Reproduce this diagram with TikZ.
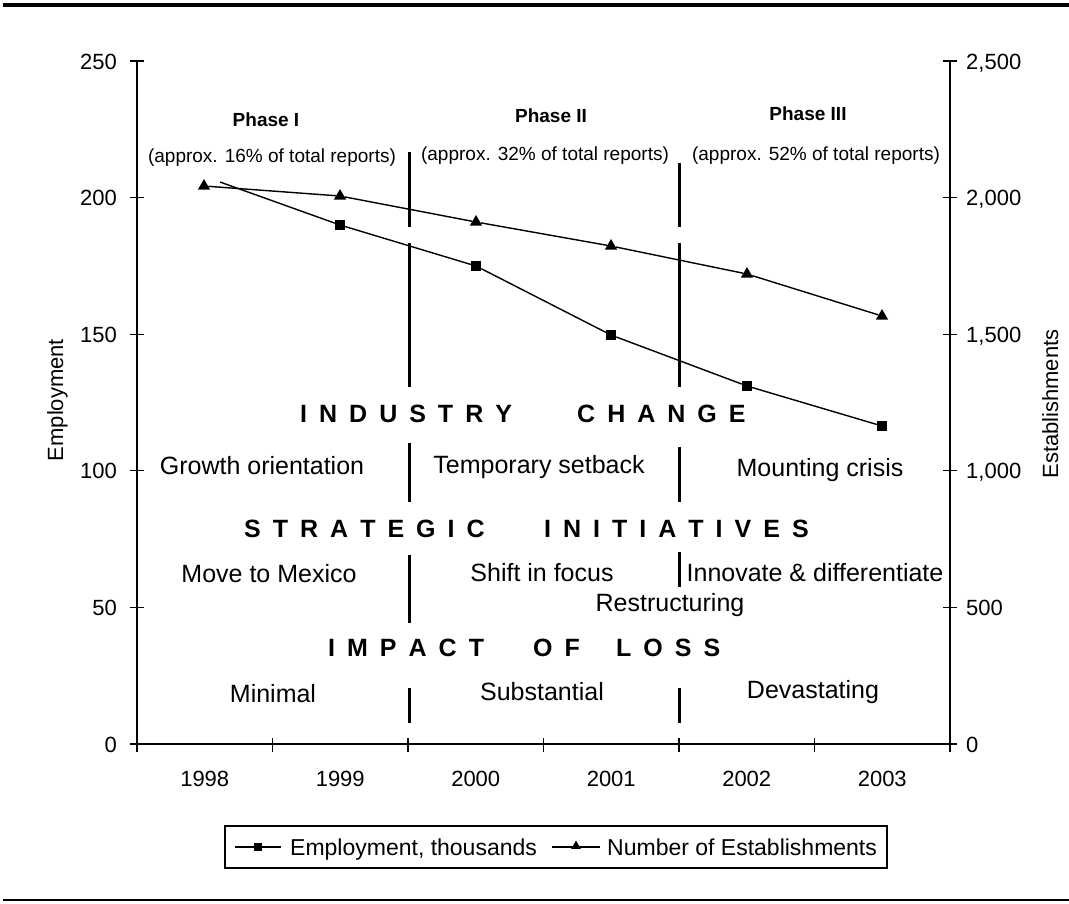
\documentclass[tikz,border=0pt]{standalone}
\usepackage{fontspec}
\setmainfont{Liberation Sans}
\usetikzlibrary{shapes.geometric}
\newcommand\lsp{\hspace{12pt}}
\begin{document}
\begin{tikzpicture}[x=1pt,y=-1pt,
  sq/.style={rectangle, fill=black, minimum size=10pt, inner sep=0},
  tri/.style={regular polygon, regular polygon sides=3, fill=black, minimum size=14pt, inner sep=0},
  lsq/.style={rectangle, fill=black, minimum size=8pt, inner sep=0},
  ltri/.style={regular polygon, regular polygon sides=3, fill=black, minimum size=11pt, inner sep=0},
  series/.style={line width=1.4pt},
  divider/.style={line width=3pt},
  axisline/.style={line width=1.5pt},
  tickline/.style={line width=1.3pt},
  lab/.style={font=\fontsize{25}{30}\selectfont, inner sep=0, text height=18pt, text depth=0pt},
  head/.style={font=\bfseries\fontsize{25}{30}\selectfont, inner sep=0, anchor=west, text height=18pt, text depth=0pt},
  phase/.style={font=\bfseries\fontsize{19}{23}\selectfont, inner sep=0, text height=14pt, text depth=0pt},
  sub/.style={font=\fontsize{19}{23}\selectfont, inner sep=0, text height=14pt, text depth=4pt},
  num/.style={font=\fontsize{22}{26}\selectfont, inner sep=0, text height=16pt, text depth=0pt},
  legtext/.style={font=\fontsize{23}{27}\selectfont, inner sep=0, anchor=west, text height=16.5pt, text depth=0pt}
]
\useasboundingbox (0,0) rectangle (1069,903);
\fill[white] (0,0) rectangle (1069,903);
% rules
\draw[line width=4pt] (3,5) -- (1069,5);
\draw[line width=2pt] (3,900) -- (1069,900);

% axes
\coordinate (o) at (137,744);
\coordinate (ltop) at (137,61);
\coordinate (rbot) at (950,744);
\coordinate (rtop) at (950,61);
\draw[axisline] (ltop) -- (o);
\draw[axisline] (rtop) -- (rbot);
\draw[line width=2.5pt] (o) -- (rbot);

% y ticks and labels
\foreach \k/\l/\r in {0/0/0, 1/50/500, 2/100/{1,000}, 3/150/{1,500}, 4/200/{2,000}, 5/250/{2,500}} {
  \draw[tickline] (130,744-136.6*\k) -- (144,744-136.6*\k);
  \draw[tickline] (943,744-136.6*\k) -- (957,744-136.6*\k);
  \node[num, anchor=east] (yl\k) at (117,744-136.6*\k) {\l};
  \node[num, anchor=west] (yr\k) at (966,744-136.6*\k) {\r};
}
% x ticks
\foreach \k in {0,...,6} {
  \draw[tickline] (137+135.5*\k,738) -- (137+135.5*\k,752);
}
\foreach \k/\yr in {0/1998,1/1999,2/2000,3/2001,4/2002,5/2003} {
  \node[num] (x\yr) at (204.75+135.5*\k,778) {\yr};
}

% axis titles
\node[num, rotate=90] (ytitle) at (55,400) {Employment};
\node[num, rotate=90] (y2title) at (1050,404) {Establishments};

% dividers
\foreach \x/\a/\b in {409/152/227, 409/243/387, 409/443/502, 409/555/623, 409/688/723,
                      679/163/227, 679/243/387, 679/447/502, 679/552/587, 679/688/723} {
  \draw[divider] (\x,\a) -- (\x,\b);
}

% establishments series
\node[tri] (t1998) at (204,186) {};
\node[tri] (t1999) at (340,196) {};
\node[tri] (t2000) at (476,222) {};
\node[tri] (t2001) at (611,246) {};
\node[tri] (t2002) at (747,274) {};
\node[tri] (t2003) at (882,316) {};
\draw[series] (t1998) -- (t1999) -- (t2000) -- (t2001) -- (t2002) -- (t2003);

% employment series
\coordinate (e1998) at (220,182);
\node[sq] (e1999) at (340,225) {};
\node[sq] (e2000) at (476,266) {};
\node[sq] (e2001) at (611,335) {};
\node[sq] (e2002) at (747,386) {};
\node[sq] (e2003) at (882,426) {};
\draw[series] (e1998) -- (e1999) -- (e2000) -- (e2001) -- (e2002) -- (e2003);

% phases
\node[phase] (p1) at (266,119) {Phase I};
\node[phase] (p2) at (551,115) {Phase II};
\node[phase] (p3) at (808,113) {Phase III};
\node[sub] (s1) at (272,157) {(approx. 16\% of total reports)};
\node[sub] (s2) at (545,155) {(approx. 32\% of total reports)};
\node[sub] (s3) at (816,155) {(approx. 52\% of total reports)};

% headings
\node[head] (h1a) at (300,413) {I\lsp N\lsp D\lsp U\lsp S\lsp T\lsp R\lsp Y};
\node[head] (h1b) at (577,413) {C\lsp H\lsp A\lsp N\lsp G\lsp E};
\node[head] (h2a) at (244,528) {S\lsp T\lsp R\lsp A\lsp T\lsp E\lsp G\lsp I\lsp C};
\node[head] (h2b) at (544,528) {I\lsp N\lsp I\lsp T\lsp I\lsp A\lsp T\lsp I\lsp V\lsp E\lsp S};
\node[head] (h3a) at (328,647) {I\lsp M\lsp P\lsp A\lsp C\lsp T};
\node[head] (h3b) at (533,647) {O\lsp F};
\node[head] (h3c) at (616,647) {L\lsp O\lsp S\lsp S};

% labels
\node[lab] (g1) at (262,465) {Growth orientation};
\node[lab] (g2) at (539,464) {Temporary setback};
\node[lab] (g3) at (820,467) {Mounting crisis};
\node[lab] (m1) at (269,573) {Move to Mexico};
\node[lab] (m2) at (542,572) {Shift in focus};
\node[lab] (m3) at (815,572) {Innovate \& differentiate};
\node[lab] (m4) at (670,602) {Restructuring};
\node[lab] (i1) at (273,693) {Minimal};
\node[lab] (i2) at (542,691) {Substantial};
\node[lab] (i3) at (813,689) {Devastating};

% legend
\node[draw, line width=1.3pt, minimum width=662pt, minimum height=42pt, inner sep=0] (legend) at (556,847) {};
\coordinate (la) at (235,847);
\coordinate (lb) at (281,847);
\node[lsq] (lsqm) at (258,847) {};
\draw[series] (la) -- (lb);
\node[legtext] (lt1) at (290,847) {Employment, thousands};
\coordinate (lc) at (552,847);
\coordinate (ld) at (600,847);
\node[ltri] (ltrm) at (576,846) {};
\draw[series] (lc) -- (ld);
\node[legtext] (lt2) at (607,847) {Number of Establishments};
\end{tikzpicture}
\end{document}
